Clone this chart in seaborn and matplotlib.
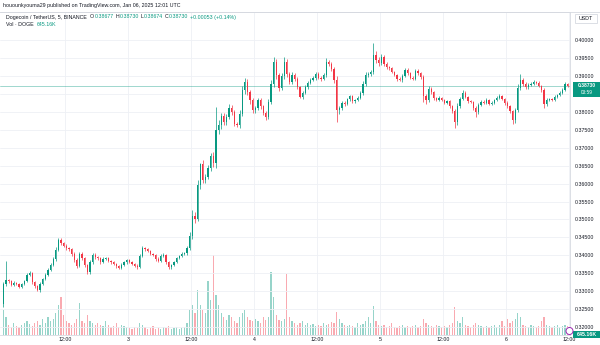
import numpy as np
import pandas as pd
import matplotlib
matplotlib.use("Agg")
import matplotlib.pyplot as plt
import seaborn as sns
from matplotlib.patches import Rectangle, Ellipse
from matplotlib.lines import Line2D

# ---------------- data (30-minute candles, DOGE/USDT, Jan 2 00:00 -> Jan 6 12:00 UTC) ----------------
first_open = 0.3265
closes = [
    .3320, .3330, .3328, .3317, .3323, .3320, .3312, .3320, .3328, .3345, .3351, .3326,
    .3314, .3303, .3320, .3334, .3345, .3359, .3373, .3390, .3415, .3443, .3434, .3426,
    .3420, .3418, .3404, .3387, .3370, .3404, .3392, .3373, .3353, .3381, .3401, .3395,
    .3392, .3381, .3390, .3392, .3384, .3381, .3376, .3370, .3365, .3373, .3381, .3387,
    .3381, .3376, .3370, .3367, .3398, .3420, .3418, .3412, .3404, .3401, .3390, .3384,
    .3398, .3401, .3381, .3367, .3373, .3381, .3392, .3398, .3404, .3406, .3420, .3454,
    .3510, .3501, .3596, .3655, .3610, .3618, .3643, .3677, .3657, .3749, .3763, .3788,
    .3771, .3785, .3811, .3800, .3766, .3763, .3794, .3861, .3883, .3855, .3833, .3805,
    .3811, .3833, .3816, .3797, .3786, .3828, .3878, .3939, .3903, .3867, .3900, .3939,
    .3906, .3883, .3903, .3892, .3869, .3842, .3853, .3869, .3881, .3889, .3895, .3906,
    .3895, .3892, .3903, .3939, .3934, .3920, .3889, .3805, .3810, .3825, .3822, .3836,
    .3844, .3830, .3833, .3839, .3853, .3878, .3903, .3906, .3911, .3959, .3945, .3936,
    .3953, .3934, .3925, .3922, .3911, .3903, .3892, .3889, .3900, .3917, .3908, .3895,
    .3892, .3914, .3908, .3897, .3844, .3833, .3864, .3855, .3839, .3833, .3839, .3833,
    .3825, .3830, .3816, .3802, .3772, .3816, .3836, .3853, .3842, .3830, .3828, .3811,
    .3800, .3819, .3828, .3825, .3833, .3822, .3825, .3833, .3839, .3844, .3836, .3825,
    .3816, .3802, .3777, .3805, .3867, .3889, .3878, .3869, .3875, .3878, .3883, .3881,
    .3872, .3861, .3822, .3833, .3836, .3833, .3842, .3847, .3853, .3861, .3878, .3873,
]
# upper / lower wick lengths beyond the candle body, in units of 0.0001
wick_up = [
    5, 55, 4, 3, 4, 3, 3, 4, 4, 6, 5, 3,
    3, 4, 5, 4, 5, 6, 5, 6, 8, 5, 4, 4,
    5, 4, 3, 4, 6, 4, 5, 3, 4, 6, 5, 4,
    4, 3, 5, 4, 3, 4, 3, 3, 4, 5, 4, 4,
    4, 3, 3, 5, 6, 5, 4, 3, 4, 3, 3, 4,
    5, 4, 3, 3, 4, 4, 4, 3, 4, 4, 6, 10,
    16, 12, 14, 2, 10, 8, 9, 8, 12, 65, 15, 10,
    8, 9, 12, 8, 6, 7, 10, 12, 12, 8, 6, 5,
    6, 7, 5, 4, 5, 8, 10, 14, 9, 6, 8, 14,
    8, 6, 7, 5, 5, 4, 5, 5, 4, 5, 4, 5,
    4, 5, 5, 11, 6, 5, 4, 10, 6, 5, 4, 4,
    4, 3, 4, 5, 6, 8, 7, 5, 6, 33, 10, 7,
    8, 6, 5, 4, 4, 4, 3, 4, 6, 5, 4, 3,
    4, 6, 5, 4, 5, 6, 8, 4, 4, 3, 4, 3,
    4, 4, 3, 3, 5, 8, 6, 7, 4, 3, 4, 3,
    4, 5, 4, 4, 5, 3, 4, 4, 5, 5, 4, 3,
    4, 3, 3, 6, 12, 17, 6, 5, 5, 4, 5, 4,
    4, 3, 5, 5, 4, 4, 5, 4, 4, 5, 6, 3,
]
wick_dn = [
    10, 5, 6, 4, 3, 4, 3, 4, 3, 3, 4, 5,
    5, 3, 4, 3, 4, 3, 4, 4, 5, 4, 5, 4,
    4, 5, 5, 6, 5, 4, 5, 6, 5, 4, 4, 4,
    4, 5, 3, 4, 4, 4, 4, 5, 4, 3, 4, 4,
    3, 4, 4, 4, 3, 4, 5, 4, 4, 4, 5, 4,
    3, 4, 5, 5, 4, 4, 3, 3, 3, 3, 4, 5,
    8, 10, 6, 12, 9, 8, 6, 8, 10, 14, 12, 10,
    9, 8, 6, 8, 5, 6, 8, 6, 10, 9, 12, 8,
    7, 6, 7, 6, 8, 6, 5, 8, 10, 9, 6, 7,
    8, 6, 5, 5, 4, 3, 5, 4, 5, 4, 4, 5,
    4, 5, 4, 5, 6, 6, 8, 33, 10, 6, 5, 4,
    5, 4, 4, 4, 4, 5, 6, 5, 5, 6, 8, 7,
    6, 6, 5, 4, 4, 4, 5, 4, 5, 4, 4, 4,
    4, 4, 5, 5, 16, 10, 6, 6, 5, 4, 4, 3,
    4, 4, 5, 6, 17, 8, 5, 4, 4, 5, 4, 6,
    14, 6, 4, 4, 4, 4, 4, 4, 3, 4, 4, 5,
    5, 6, 11, 8, 5, 5, 6, 5, 4, 4, 4, 3,
    4, 5, 11, 6, 4, 4, 4, 3, 4, 4, 4, 4,
]
# volume per candle (millions of DOGE)
volume_m = [
    25, 18, 10, 8, 12, 9, 8, 10, 12, 14, 11, 9,
    12, 14, 10, 16, 12, 18, 14, 16, 22, 30, 38, 20,
    14, 12, 10, 12, 16, 32, 14, 12, 20, 14, 12, 10,
    12, 10, 9, 14, 10, 8, 9, 12, 8, 10, 9, 8,
    7, 6, 8, 7, 12, 10, 8, 6, 7, 9, 6, 7,
    6, 8, 7, 9, 6, 7, 8, 6, 7, 8, 12, 25,
    30, 22, 45, 30, 25, 22, 54, 35, 80, 40, 30, 22,
    18, 15, 20, 18, 14, 12, 18, 22, 25, 18, 15, 14,
    16, 14, 12, 18, 15, 18, 63, 38, 20, 15, 14, 16,
    61, 18, 14, 12, 10, 12, 14, 10, 12, 10, 11, 9,
    10, 9, 12, 10, 11, 13, 12, 23, 16, 12, 10, 9,
    10, 9, 8, 12, 10, 11, 14, 18, 12, 29, 14, 10,
    9, 10, 8, 9, 12, 8, 7, 9, 10, 8, 9, 8,
    9, 10, 8, 9, 16, 12, 10, 9, 8, 10, 9, 8,
    9, 8, 10, 12, 28, 14, 12, 18, 10, 9, 8, 10,
    12, 10, 9, 8, 9, 8, 9, 10, 8, 10, 14, 9,
    16, 12, 14, 16, 22, 18, 10, 9, 8, 10, 9, 8,
    9, 14, 18, 10, 9, 8, 9, 10, 8, 9, 10, 9,
]

x_tick_hours = [12, 24, 36, 48, 60, 72, 84, 96, 108]
x_tick_labels = ["12:00", "3", "12:00", "4", "12:00", "5", "12:00", "6", "12:00"]
price_ticks = [0.320, 0.325, 0.330, 0.335, 0.340, 0.345, 0.350, 0.355, 0.360,
               0.365, 0.370, 0.375, 0.380, 0.385, 0.390, 0.395, 0.400]
hidden_price_label = 0.385  # covered by the last-price tag in the reference
last_price = 0.38730

header = "houounkyouma29 published on TradingView.com, Jan 06, 2025 12:01 UTC"
symbol = "Dogecoin / TetherUS, 5, BINANCE"
ohlc = [("O", "0.38677"), ("H", "0.38730"), ("L", "0.38674"), ("C", "0.38730")]
change = "+0.00053 (+0.14%)"
vol_name = "Vol · DOGE"
vol_last = "645.16K"
countdown = "03:59"

# ---------------- style ----------------
sns.set_theme(style="white")
plt.rcParams["font.family"] = ["Liberation Sans", "DejaVu Sans"]

UP = "#089981"
DN = "#F23645"
TXT = "#131722"
GRID = "#eef0f5"
BORDER = "#d6d9e0"
FS = 3.8

# ---------------- derived candle arrays ----------------
n = len(closes)
t = np.arange(n) * 0.5 + 0.25
c_arr = np.array(closes)
o_arr = np.array([first_open] + closes[:-1])
h_arr = np.maximum(o_arr, c_arr) + np.array(wick_up) * 1e-4
l_arr = np.minimum(o_arr, c_arr) - np.array(wick_dn) * 1e-4
is_up = c_arr >= o_arr
cols = np.where(is_up, UP, DN)

df = pd.DataFrame({"t": t, "vol": volume_m, "dir": np.where(is_up, "up", "down")})

W, H = 600, 345
fig = plt.figure(figsize=(6, 3.45), dpi=100)
fig.patch.set_facecolor("white")


def fx(px):
    return px / W


def fy(py):
    return 1 - py / H


pos = [0, fy(335), fx(570), (335 - 12) / H]
axv = fig.add_axes(pos)
ax = fig.add_axes(pos, sharex=axv)
ax.patch.set_visible(False)

# volume (behind)
sns.barplot(data=df, x="t", y="vol", hue="dir", palette={"up": UP, "down": DN},
            native_scale=True, dodge=False, errorbar=None, width=0.45, saturation=1,
            alpha=0.42, legend=False, ax=axv, linewidth=0)
axv.set_ylim(0, max(volume_m) * 323 / 80)
axv.set_yticks([])
axv.set_xlabel("")
axv.set_ylabel("")
axv.tick_params(axis="x", length=0, labelbottom=False)
for s in axv.spines.values():
    s.set_visible(False)

# candles
ax.vlines(t, l_arr, h_arr, colors=cols, lw=0.5, zorder=3)
body = np.maximum(np.abs(c_arr - o_arr), 0.00006)
ax.bar(t, body, bottom=np.minimum(o_arr, c_arr), width=0.26, color=cols, lw=0, zorder=4)

ax.axhline(last_price, color=UP, lw=0.6, alpha=0.45, zorder=2)

ax.set_xlim(-0.38, 108.19)
ax.set_ylim(0.31777, 0.40785)
ax.yaxis.tick_right()
ax.set_yticks(price_ticks)
ax.set_yticklabels(["" if abs(v - hidden_price_label) < 1e-9 else f"{v:.5f}" for v in price_ticks])
ax.set_xticks(x_tick_hours)
ax.set_xticklabels(x_tick_labels)
ax.tick_params(axis="y", length=0, pad=3.6, labelsize=FS, labelcolor=TXT)
ax.tick_params(axis="x", length=0, pad=1.4, labelsize=FS, labelcolor=TXT, labelbottom=True)
ax.grid(True, color=GRID, lw=0.6)
ax.set_axisbelow(True)
ax.set_xlabel("")
ax.set_ylabel("")
ax.spines["left"].set_visible(False)
for k in ("top", "right", "bottom"):
    ax.spines[k].set_color(BORDER)
    ax.spines[k].set_linewidth(0.6)

# top border across the full width
fig.add_artist(Line2D([0, 1], [fy(12), fy(12)], transform=fig.transFigure, color=BORDER, lw=0.6))

# ---------------- texts ----------------
fig.text(fx(3), fy(6), header, fontsize=FS, color=TXT, va="center", ha="left")

renderer = fig.canvas.get_renderer()


def seq_text(x_px, y_px, parts):
    x = x_px
    for s, col, gap in parts:
        x += gap
        tt = fig.text(fx(x), fy(y_px), s, color=col, fontsize=FS, va="center", ha="left")
        x += tt.get_window_extent(renderer).width


parts = [(symbol, TXT, 0)]
for i, (k, v) in enumerate(ohlc):
    parts.append((k, TXT, 3 if i == 0 else 2))
    parts.append((v, UP, 0.3))
parts.append((change, UP, 2))
seq_text(6, 17, parts)
seq_text(6, 24.5, [(vol_name, TXT, 0), (vol_last, UP, 3)])

# USDT box
fig.add_artist(Rectangle((fx(575), fy(23)), fx(22), 9 / H, transform=fig.transFigure,
                         facecolor="white", edgecolor=BORDER, lw=0.6))
fig.text(fx(586), fy(18.5), "USDT", fontsize=FS, color=TXT, ha="center", va="center")

# last price box
fig.add_artist(Rectangle((fx(573), fy(96.5)), fx(27), 15 / H, transform=fig.transFigure,
                         facecolor=UP, edgecolor="none"))
fig.text(fx(586.5), fy(85.2), f"{last_price:.5f}", fontsize=3.6, color="white",
         ha="center", va="center", fontweight="bold")
fig.text(fx(586.5), fy(92.2), countdown, fontsize=3.4, color="white", ha="center", va="center")

# last volume box
fig.add_artist(Rectangle((fx(573), fy(337.5)), fx(27), 7 / H, transform=fig.transFigure,
                         facecolor=UP, edgecolor="none"))
fig.text(fx(586.5), fy(334), vol_last, fontsize=FS, color="white", ha="center", va="center",
         fontweight="bold")

# small purple marker
fig.add_artist(Ellipse((fx(569.5), fy(331)), fx(7), 7 / H, transform=fig.transFigure,
                       facecolor="white", edgecolor="#9c27b0", lw=0.7))

fig.savefig("out.png", dpi=100, facecolor="white")
